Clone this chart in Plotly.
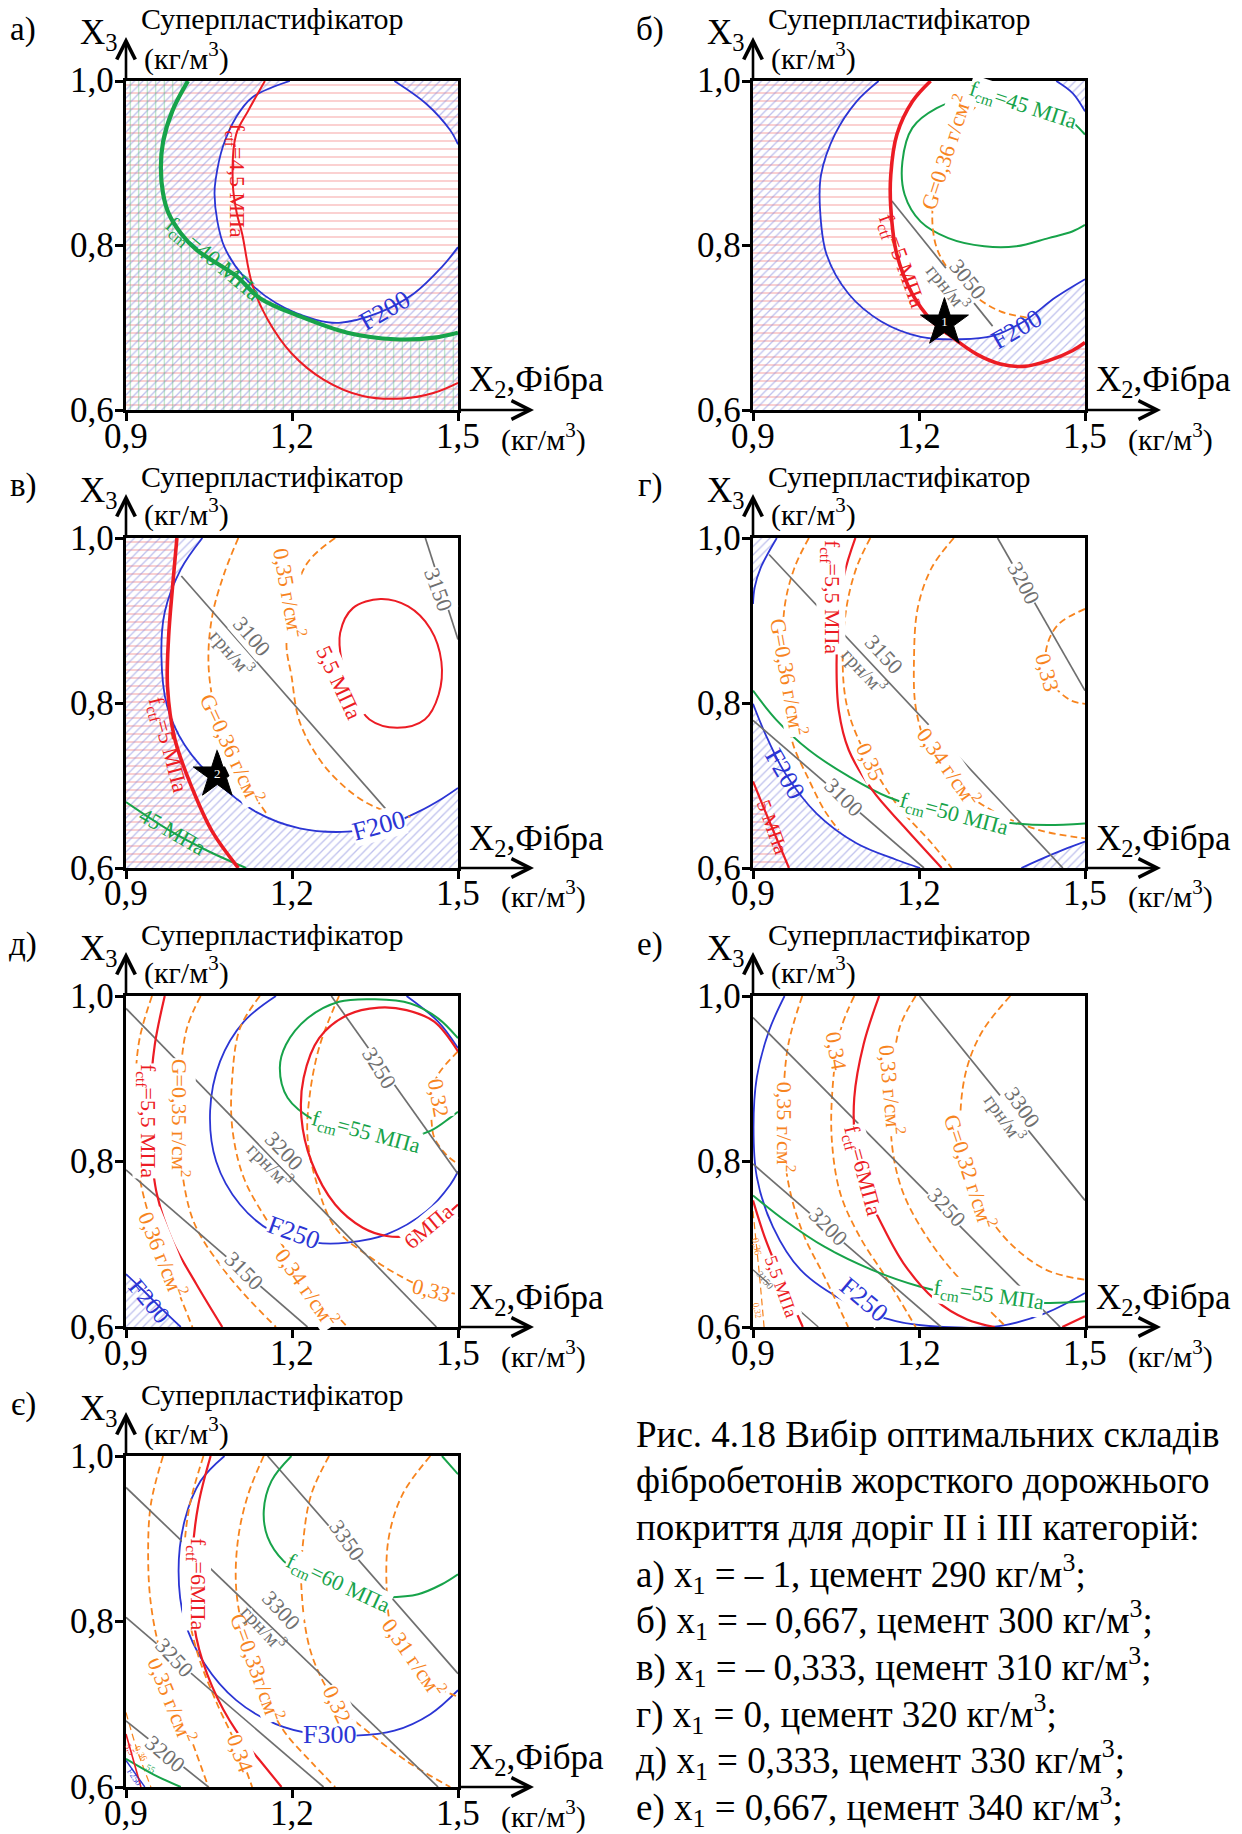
import plotly.graph_objects as go

W, H = 1242, 1834
FONT = "Liberation Serif"
RED, BLUE, GREEN, ORANGE, GRAY = "#ec1c24", "#2b35d4", "#17a34a", "#f7841e", "#6f6f6f"

X_TICKS = [0.9, 1.2, 1.5]
X_TICK_TEXT = ["0,9", "1,2", "1,5"]
Y_TICKS = [0.6, 0.8, 1.0]
Y_TICK_TEXT = ["0,6", "0,8", "1,0"]
PANEL_LETTERS = ["а)", "б)", "в)", "г)", "д)", "е)", "є)"]

# ---------------- panel а) ----------------
A_RED45 = [(1.151, 1.0), (1.121, 0.964), (1.099, 0.935), (1.093, 0.875), (1.100, 0.84), (1.110, 0.814),
           (1.128, 0.753), (1.156, 0.710), (1.199, 0.669), (1.257, 0.637), (1.328, 0.617), (1.400, 0.614),
           (1.457, 0.621), (1.5, 0.633)]
A_BLUE_MAIN = [(1.196, 1.0), (1.128, 0.980), (1.099, 0.956), (1.075, 0.92), (1.062, 0.88), (1.060, 0.863),
               (1.065, 0.83), (1.078, 0.798), (1.113, 0.762), (1.171, 0.730), (1.242, 0.710), (1.285, 0.706),
               (1.356, 0.718), (1.421, 0.742), (1.471, 0.774), (1.5, 0.798)]
A_BLUE_TR = [(1.385, 1.0), (1.443, 0.972), (1.486, 0.940), (1.5, 0.923)]
A_GREEN40 = [(1.012, 1.0), (0.984, 0.964), (0.967, 0.926), (0.963, 0.895), (0.967, 0.863), (0.977, 0.839),
             (0.999, 0.815), (1.027, 0.795), (1.099, 0.763), (1.142, 0.736), (1.214, 0.714), (1.300, 0.694),
             (1.386, 0.686), (1.457, 0.688), (1.5, 0.694)]

# ---------------- panel б) ----------------
B_BLUE_MAIN = [(1.127, 1.0), (1.087, 0.975), (1.048, 0.935), (1.023, 0.886), (1.021, 0.846), (1.033, 0.789),
               (1.073, 0.741), (1.131, 0.708), (1.203, 0.689), (1.275, 0.686), (1.333, 0.690), (1.390, 0.708),
               (1.447, 0.737), (1.5, 0.759)]
B_BLUE_TR = [(1.448, 1.0), (1.478, 0.985), (1.5, 0.963)]
B_RED5 = [(1.221, 1.0), (1.188, 0.975), (1.160, 0.935), (1.149, 0.886), (1.149, 0.846), (1.160, 0.789),
          (1.188, 0.741), (1.224, 0.708), (1.253, 0.692), (1.304, 0.668), (1.347, 0.656), (1.390, 0.653),
          (1.434, 0.660), (1.477, 0.672), (1.5, 0.682)]
B_GREEN45 = [(1.5, 0.825), (1.477, 0.817), (1.434, 0.809), (1.376, 0.799), (1.318, 0.799), (1.253, 0.809),
             (1.203, 0.829), (1.174, 0.862), (1.170, 0.902), (1.188, 0.943), (1.232, 0.967), (1.297, 0.981),
             (1.340, 0.983), (1.412, 0.975), (1.462, 0.959), (1.5, 0.935)]
B_ORANGE36 = [(1.333, 0.985), (1.29, 0.96), (1.255, 0.92), (1.232, 0.87), (1.224, 0.838), (1.232, 0.797),
              (1.260, 0.765), (1.304, 0.737), (1.347, 0.720), (1.397, 0.712)]
B_GRAY3050 = [(1.151, 0.854), (1.333, 0.702)]
B_STAR = [(1.246, 0.706)]

# ---------------- panel в) ----------------
V_RED5 = [(0.992, 1.0), (0.984, 0.94), (0.977, 0.88), (0.975, 0.82), (0.988, 0.757), (1.020, 0.696),
          (1.056, 0.644), (1.103, 0.6)]
V_BLUE200 = [(1.038, 1.0), (0.999, 0.962), (0.970, 0.910), (0.964, 0.857), (0.974, 0.797), (1.006, 0.749),
             (1.063, 0.705), (1.135, 0.668), (1.214, 0.648), (1.300, 0.644), (1.371, 0.652), (1.428, 0.668),
             (1.471, 0.684), (1.5, 0.697)]
V_GREEN45 = [(0.9, 0.680), (0.98, 0.645), (1.05, 0.620), (1.117, 0.6)]
V_ORANGE36 = [(1.103, 1.0), (1.078, 0.958), (1.056, 0.906), (1.049, 0.849), (1.060, 0.793), (1.080, 0.75),
              (1.110, 0.71), (1.156, 0.664)]
V_ORANGE35 = [(1.278, 1.0), (1.228, 0.970), (1.200, 0.92), (1.190, 0.87), (1.199, 0.833), (1.214, 0.777),
              (1.257, 0.725), (1.314, 0.688), (1.357, 0.672), (1.414, 0.662)]
V_RED55 = [(1.360, 0.926), (1.41, 0.917), (1.45, 0.89), (1.470, 0.85), (1.465, 0.81), (1.44, 0.78),
           (1.39, 0.770), (1.34, 0.78), (1.31, 0.81), (1.29, 0.85), (1.287, 0.885), (1.31, 0.915), (1.360, 0.926)]
V_GRAY3100 = [(1.000, 0.954), (1.382, 0.662)]
V_GRAY3150 = [(1.441, 1.0), (1.5, 0.877)]
V_STAR = [(1.065, 0.713)]

# ---------------- panel г) ----------------
G_BLUE_TL = [(0.943, 1.0), (0.914, 0.964), (0.903, 0.94), (0.9, 0.92)]
G_BLUE_BL = [(0.9, 0.799), (0.922, 0.763), (0.958, 0.715), (1.015, 0.666), (1.087, 0.630), (1.159, 0.610),
             (1.202, 0.6)]
G_BLUE_BR = [(1.385, 0.6), (1.432, 0.614), (1.468, 0.624), (1.5, 0.632)]
G_RED5 = [(0.9, 0.705), (0.92, 0.672), (0.94, 0.640), (0.965, 0.6)]
G_RED55 = [(1.085, 1.0), (1.065, 0.956), (1.055, 0.90), (1.051, 0.847), (1.055, 0.791), (1.073, 0.743),
           (1.116, 0.694), (1.173, 0.650), (1.241, 0.6)]
G_OR36 = [(1.001, 1.0), (0.975, 0.964), (0.957, 0.916), (0.955, 0.85), (0.960, 0.80), (0.972, 0.751),
          (1.001, 0.707), (1.029, 0.670), (1.055, 0.646)]
G_OR35 = [(1.112, 1.0), (1.087, 0.964), (1.069, 0.916), (1.062, 0.855), (1.069, 0.799), (1.094, 0.751),
          (1.159, 0.678), (1.223, 0.630), (1.259, 0.6)]
G_OR34 = [(1.263, 1.0), (1.223, 0.964), (1.198, 0.916), (1.191, 0.855), (1.195, 0.791), (1.22, 0.74),
          (1.27, 0.70), (1.331, 0.670), (1.417, 0.646), (1.5, 0.636)]
G_OR33 = [(1.5, 0.914), (1.453, 0.896), (1.432, 0.871), (1.430, 0.84), (1.446, 0.819), (1.475, 0.803), (1.5, 0.799)]
G_GREEN50 = [(0.9, 0.815), (0.943, 0.779), (1.001, 0.743), (1.073, 0.711), (1.144, 0.686), (1.25, 0.665),
             (1.374, 0.654), (1.432, 0.652), (1.5, 0.654)]
G_GRAY3100 = [(0.9, 0.779), (1.209, 0.6)]
G_GRAY3150 = [(0.929, 0.980), (1.460, 0.6)]
G_GRAY3200 = [(1.342, 1.0), (1.5, 0.815)]

# ---------------- panel д) ----------------
D_BLUE200 = [(0.9, 0.664), (0.93, 0.645), (0.96, 0.625), (0.999, 0.6)]
D_RED55 = [(0.970, 1.0), (0.952, 0.941), (0.944, 0.88), (0.945, 0.82), (0.956, 0.760), (0.984, 0.704),
           (1.027, 0.652), (1.074, 0.6)]
D_OR36 = [(0.947, 1.0), (0.925, 0.95), (0.917, 0.90), (0.916, 0.85), (0.920, 0.80), (0.935, 0.75),
          (0.96, 0.70), (0.99, 0.65), (1.02, 0.6)]
D_OR35 = [(1.035, 1.0), (1.010, 0.961), (0.998, 0.90), (0.997, 0.84), (1.006, 0.768), (1.027, 0.720),
          (1.078, 0.668), (1.12, 0.635), (1.171, 0.6)]
D_OR34 = [(1.142, 1.0), (1.106, 0.961), (1.092, 0.901), (1.092, 0.841), (1.113, 0.780), (1.163, 0.720),
          (1.214, 0.668), (1.26, 0.63), (1.300, 0.6)]
D_OR33 = [(1.285, 1.0), (1.250, 0.94), (1.232, 0.88), (1.228, 0.83), (1.242, 0.780), (1.278, 0.720),
          (1.342, 0.684), (1.40, 0.660), (1.45, 0.645), (1.5, 0.640)]
D_OR32 = [(1.5, 0.933), (1.464, 0.905), (1.450, 0.877), (1.452, 0.85), (1.457, 0.829), (1.479, 0.808), (1.5, 0.797)]
D_BLUE250_MAIN = [(1.171, 1.0), (1.113, 0.969), (1.070, 0.921), (1.052, 0.861), (1.063, 0.800), (1.106, 0.748),
                  (1.163, 0.716), (1.242, 0.702), (1.300, 0.702), (1.371, 0.712), (1.443, 0.740), (1.486, 0.772),
                  (1.5, 0.788)]
D_BLUE250_TR = [(1.407, 1.0), (1.464, 0.969), (1.5, 0.937)]
D_GREEN55 = [(1.5, 0.949), (1.464, 0.973), (1.414, 0.991), (1.350, 0.996), (1.285, 0.993), (1.228, 0.973),
             (1.189, 0.941), (1.178, 0.913), (1.192, 0.877), (1.242, 0.849), (1.32, 0.830), (1.385, 0.826),
             (1.450, 0.837), (1.486, 0.853), (1.5, 0.860)]
D_RED6 = [(1.5, 0.933), (1.457, 0.969), (1.407, 0.983), (1.357, 0.986), (1.300, 0.977), (1.249, 0.949),
          (1.221, 0.901), (1.217, 0.853), (1.235, 0.800), (1.278, 0.748), (1.328, 0.720), (1.371, 0.710),
          (1.407, 0.710), (1.471, 0.732), (1.5, 0.748)]
D_GRAY3150 = [(0.9, 0.790), (1.228, 0.6)]
D_GRAY3200 = [(0.9, 0.985), (1.461, 0.6)]
D_GRAY3250 = [(1.271, 1.0), (1.5, 0.785)]

# ---------------- panel е) ----------------
E_BLUE250 = [(0.957, 1.0), (0.929, 0.958), (0.907, 0.902), (0.901, 0.842), (0.907, 0.781), (0.936, 0.721),
             (0.986, 0.669), (1.072, 0.629), (1.158, 0.607), (1.244, 0.600), (1.344, 0.601), (1.430, 0.617),
             (1.5, 0.641)]
E_GREEN55 = [(0.9, 0.759), (0.957, 0.729), (1.029, 0.697), (1.115, 0.669), (1.201, 0.649), (1.30, 0.636),
             (1.430, 0.629), (1.5, 0.631)]
E_RED6 = [(1.128, 1.0), (1.100, 0.942), (1.083, 0.877), (1.085, 0.82), (1.10, 0.77), (1.129, 0.729),
          (1.172, 0.677), (1.229, 0.633), (1.287, 0.609), (1.337, 0.6)]
E_RED6B = [(1.459, 0.6), (1.5, 0.613)]
E_RED55 = [(0.9, 0.753), (0.921, 0.709), (0.950, 0.661), (0.990, 0.6)]
E_OR36 = [(0.9, 0.74), (0.906, 0.70), (0.912, 0.66), (0.92, 0.6)]
E_OR35 = [(0.989, 1.0), (0.964, 0.942), (0.955, 0.88), (0.955, 0.82), (0.968, 0.761), (0.993, 0.709),
          (1.029, 0.661), (1.072, 0.6)]
E_OR34 = [(1.083, 1.0), (1.058, 0.958), (1.043, 0.881), (1.043, 0.821), (1.058, 0.761), (1.093, 0.709),
          (1.143, 0.657), (1.194, 0.6)]
E_OR33 = [(1.194, 1.0), (1.165, 0.962), (1.152, 0.90), (1.151, 0.821), (1.172, 0.761), (1.222, 0.701),
          (1.280, 0.653), (1.344, 0.609), (1.358, 0.6)]
E_OR32 = [(1.365, 1.0), (1.315, 0.958), (1.287, 0.914), (1.275, 0.86), (1.28, 0.80), (1.31, 0.75),
          (1.365, 0.701), (1.430, 0.669), (1.5, 0.657)]
E_GRAY3150 = [(0.9, 0.669), (1.018, 0.6)]
E_GRAY3200 = [(0.9, 0.797), (1.240, 0.6)]
E_GRAY3250 = [(0.9, 0.974), (1.455, 0.6)]
E_GRAY3300 = [(1.201, 1.0), (1.5, 0.753)]

# ---------------- panel є) ----------------
YE_BLUE300 = [(1.078, 1.0), (1.035, 0.970), (1.006, 0.922), (0.995, 0.861), (1.006, 0.801), (1.042, 0.749),
              (1.099, 0.705), (1.171, 0.676), (1.24, 0.664), (1.314, 0.662), (1.385, 0.668), (1.450, 0.688),
              (1.5, 0.717)]
YE_BLUE250 = [(0.9, 0.632), (0.934, 0.6)]
YE_RED6 = [(1.053, 1.0), (1.031, 0.942), (1.020, 0.881), (1.020, 0.83), (1.027, 0.781), (1.056, 0.721),
           (1.099, 0.668), (1.142, 0.632), (1.181, 0.6)]
YE_RED55 = [(0.9, 0.664), (0.927, 0.6)]
YE_GREEN60 = [(1.199, 1.0), (1.163, 0.970), (1.149, 0.934), (1.156, 0.902), (1.185, 0.873), (1.25, 0.845),
              (1.32, 0.830), (1.371, 0.829), (1.428, 0.833), (1.471, 0.845), (1.5, 0.857)]
YE_GREEN60B = [(1.471, 1.0), (1.5, 0.978)]
YE_GREEN55 = [(0.9, 0.634), (0.95, 0.615), (0.999, 0.6)]
YE_OR36 = [(0.9, 0.69), (0.92, 0.645), (0.945, 0.6)]
YE_OR35 = [(0.967, 1.0), (0.945, 0.942), (0.940, 0.881), (0.945, 0.821), (0.963, 0.761), (1.006, 0.680), (1.049, 0.6)]
YE_OR34 = [(1.04, 1.0), (1.015, 0.94), (1.005, 0.88), (1.01, 0.82), (1.03, 0.76), (1.065, 0.70), (1.10, 0.65), (1.128, 0.6)]
YE_OR33 = [(1.149, 1.0), (1.121, 0.954), (1.103, 0.902), (1.099, 0.841), (1.115, 0.78), (1.145, 0.72),
           (1.185, 0.668), (1.235, 0.63), (1.278, 0.6)]
YE_OR32 = [(1.267, 1.0), (1.235, 0.954), (1.221, 0.902), (1.217, 0.841), (1.235, 0.761), (1.282, 0.700),
           (1.335, 0.668), (1.41, 0.63), (1.486, 0.6)]
YE_OR31 = [(1.450, 1.0), (1.400, 0.954), (1.375, 0.902), (1.371, 0.841), (1.38, 0.79), (1.41, 0.75),
           (1.45, 0.725), (1.5, 0.709)]
YE_GRAY3200 = [(0.9, 0.680), (1.049, 0.6)]
YE_GRAY3250 = [(0.9, 0.805), (1.257, 0.6)]
YE_GRAY3300 = [(0.9, 0.962), (1.464, 0.6)]
YE_GRAY3350 = [(1.156, 1.0), (1.5, 0.737)]

CAPTION = [
    "Рис. 4.18 Вибір оптимальних складів",
    "фібробетонів жорсткого дорожнього",
    "покриття для доріг ІІ і ІІІ категорій:",
    "а) x<sub>1</sub> = – 1, цемент 290 кг/м<sup>3</sup>;",
    "б) x<sub>1</sub> = – 0,667, цемент 300 кг/м<sup>3</sup>;",
    "в) x<sub>1</sub> = – 0,333, цемент 310 кг/м<sup>3</sup>;",
    "г) x<sub>1</sub> = 0, цемент 320 кг/м<sup>3</sup>;",
    "д) x<sub>1</sub> = 0,333, цемент 330 кг/м<sup>3</sup>;",
    "е) x<sub>1</sub> = 0,667, цемент 340 кг/м<sup>3</sup>;",
]

# ---------------- geometry helpers ----------------
XL, XR, YB, YT = 0.9, 1.5, 0.6, 1.0
OX0, OX1, OY0, OY1 = 0.8, 1.6, 0.5, 1.1
TL, TR, BL, BR = (OX0, OY1), (OX1, OY1), (OX0, OY0), (OX1, OY0)


def push_out(p):
    x, y = p
    if y >= YT - 1e-6:
        return (x, OY1)
    if y <= YB + 1e-6:
        return (x, OY0)
    if x <= XL + 1e-6:
        return (OX0, y)
    return (OX1, y)


def region(curve, corners):
    return list(curve) + [push_out(curve[-1])] + list(corners) + [push_out(curve[0])]


BOX_ALL = [TL, TR, BR, BL]

HATCH_RED = dict(shape="-", fgcolor="#f05a5a", size=8, solidity=0.14)
HATCH_BLUE = dict(shape="/", fgcolor="#7f84dc", size=6, solidity=0.22)
HATCH_GREEN = dict(shape="|", fgcolor="#5cbf7a", size=8.5, solidity=0.13)

THIN, THICK = 1.8, 3.6
DASH = "7px,4px"

# curves: (points, color, width, dash)
# labels: (text, x, y, angle, color, size, white background)
PANELS = [
    dict(  # а
        fills=[(BOX_ALL, HATCH_RED),
               (region(A_BLUE_MAIN, [BR, BL, TL]), HATCH_BLUE),
               (region(A_BLUE_TR, [TR]), HATCH_BLUE),
               (region(A_GREEN40, [BR, BL, TL]), HATCH_GREEN)],
        curves=[(A_BLUE_MAIN, BLUE, THIN, None), (A_BLUE_TR, BLUE, THIN, None),
                (A_RED45, RED, 2.0, None), (A_GREEN40, GREEN, 4.2, None)],
        labels=[("f<sub>ctf</sub>=4,5 МПа", 1.099, 0.879, 90, RED, 22, False),
                ("f<sub>cm</sub>=40 МПа", 1.056, 0.782, 40, GREEN, 23, False),
                ("F200", 1.368, 0.721, -30, BLUE, 26, False)],
        stars=[]),
    dict(  # б
        fills=[(region(B_RED5, [BR, BL, TL]), HATCH_RED),
               (region(B_BLUE_MAIN, [BR, BL, TL]), HATCH_BLUE),
               (region(B_BLUE_TR, [TR]), HATCH_BLUE)],
        curves=[(B_BLUE_MAIN, BLUE, THIN, None), (B_BLUE_TR, BLUE, THIN, None),
                (B_GREEN45, GREEN, 2.0, None), (B_ORANGE36, ORANGE, THIN, DASH),
                (B_GRAY3050, GRAY, 1.7, None), (B_RED5, RED, THICK, None)],
        labels=[("f<sub>ctf</sub>=5 МПа", 1.167, 0.781, 70, RED, 22, False),
                ("f<sub>cm</sub>=45 МПа", 1.387, 0.969, 18, GREEN, 22, True),
                ("G=0,36 г/см<sup>2</sup>", 1.246, 0.914, -72, ORANGE, 22, True),
                ("3050", 1.289, 0.759, 51, GRAY, 22, True),
                ("грн/м<sup>3</sup>", 1.253, 0.749, 51, GRAY, 20, False),
                ("F200", 1.376, 0.698, -30, BLUE, 26, False)],
        stars=[(B_STAR, "1")]),
    dict(  # в
        fills=[(region(V_RED5, [BL, TL]), HATCH_RED),
               (region(V_BLUE200, [BR, BL, TL]), HATCH_BLUE)],
        curves=[(V_BLUE200, BLUE, THIN, None), (V_GREEN45, GREEN, 2.0, None),
                (V_ORANGE36, ORANGE, THIN, DASH), (V_ORANGE35, ORANGE, THIN, DASH),
                (V_GRAY3100, GRAY, 1.7, None), (V_GRAY3150, GRAY, 1.7, None),
                (V_RED55, RED, 2.0, None), (V_RED5, RED, THICK, None)],
        labels=[("f<sub>ctf</sub>=5 МПа", 0.974, 0.749, 75, RED, 22, False),
                ("45 МПа", 0.984, 0.644, 30, GREEN, 22, False),
                ("G=0,36 г/см<sup>2</sup>", 1.092, 0.745, 65, ORANGE, 22, True),
                ("0,35 г/см<sup>2</sup>", 1.196, 0.933, 80, ORANGE, 22, True),
                ("5,5 МПа", 1.285, 0.825, 65, RED, 22, True),
                ("3100", 1.128, 0.881, 49, GRAY, 22, True),
                ("грн/м<sup>3</sup>", 1.092, 0.861, 49, GRAY, 20, False),
                ("3150", 1.465, 0.938, 70, GRAY, 22, True),
                ("F200", 1.357, 0.652, -15, BLUE, 26, True)],
        stars=[(V_STAR, "2")]),
    dict(  # г
        fills=[(region(G_RED5, [BL]), HATCH_RED),
               (region(G_BLUE_TL, [TL]), HATCH_BLUE),
               (region(G_BLUE_BL, [BL]), HATCH_BLUE),
               (region(G_BLUE_BR, [BR]), HATCH_BLUE)],
        curves=[(G_BLUE_TL, BLUE, THIN, None), (G_BLUE_BL, BLUE, THIN, None), (G_BLUE_BR, BLUE, THIN, None),
                (G_OR36, ORANGE, THIN, DASH), (G_OR35, ORANGE, THIN, DASH), (G_OR34, ORANGE, THIN, DASH),
                (G_OR33, ORANGE, THIN, DASH), (G_GRAY3100, GRAY, 1.7, None), (G_GRAY3150, GRAY, 1.7, None),
                (G_GRAY3200, GRAY, 1.7, None), (G_GREEN50, GREEN, 2.0, None),
                (G_RED5, RED, 2.2, None), (G_RED55, RED, 2.2, None)],
        labels=[("f<sub>ctf</sub>=5,5 МПа", 1.040, 0.928, 90, RED, 22, True),
                ("5 МПа", 0.936, 0.650, 70, RED, 20, False),
                ("G=0,36 г/см<sup>2</sup>", 0.965, 0.831, 80, ORANGE, 22, True),
                ("0,35", 1.112, 0.729, 65, ORANGE, 22, True),
                ("0,34 г/см<sup>2</sup>", 1.256, 0.723, 55, ORANGE, 22, True),
                ("0,33", 1.432, 0.837, 75, ORANGE, 22, True),
                ("f<sub>cm</sub>=50 МПа", 1.263, 0.664, 15, GREEN, 22, True),
                ("3100", 1.065, 0.686, 45, GRAY, 22, True),
                ("3150", 1.137, 0.859, 47, GRAY, 22, True),
                ("грн/м<sup>3</sup>", 1.101, 0.839, 47, GRAY, 20, False),
                ("3200", 1.389, 0.946, 62, GRAY, 22, True),
                ("F200", 0.958, 0.715, 60, BLUE, 26, False)],
        stars=[]),
    dict(  # д
        fills=[(region(D_BLUE200, [BL]), HATCH_BLUE)],
        curves=[(D_BLUE200, BLUE, THIN, None), (D_BLUE250_MAIN, BLUE, THIN, None), (D_BLUE250_TR, BLUE, THIN, None),
                (D_OR36, ORANGE, THIN, DASH), (D_OR35, ORANGE, THIN, DASH), (D_OR34, ORANGE, THIN, DASH),
                (D_OR33, ORANGE, THIN, DASH), (D_OR32, ORANGE, THIN, DASH),
                (D_GRAY3150, GRAY, 1.7, None), (D_GRAY3200, GRAY, 1.7, None), (D_GRAY3250, GRAY, 1.7, None),
                (D_GREEN55, GREEN, 2.0, None), (D_RED6, RED, 2.2, None), (D_RED55, RED, 2.2, None)],
        labels=[("F200", 0.942, 0.632, 50, BLUE, 24, False),
                ("f<sub>ctf</sub>=5,5 МПа", 0.938, 0.849, 90, RED, 22, True),
                ("0,36 г/см<sup>2</sup>", 0.967, 0.688, 68, ORANGE, 22, True),
                ("G=0,35 г/см<sup>2</sup>", 0.999, 0.852, 90, ORANGE, 22, True),
                ("0,34 г/см<sup>2</sup>", 1.228, 0.648, 55, ORANGE, 22, True),
                ("0,33", 1.453, 0.644, 15, ORANGE, 22, True),
                ("0,32", 1.464, 0.877, 80, ORANGE, 22, True),
                ("F250", 1.203, 0.714, 20, BLUE, 26, True),
                ("f<sub>cm</sub>=55 МПа", 1.332, 0.834, 15, GREEN, 22, True),
                ("6МПа", 1.446, 0.722, -40, RED, 22, True),
                ("3150", 1.113, 0.668, 45, GRAY, 22, True),
                ("3200", 1.185, 0.813, 46, GRAY, 22, True),
                ("грн/м<sup>3</sup>", 1.160, 0.796, 46, GRAY, 20, False),
                ("3250", 1.357, 0.913, 58, GRAY, 22, True)],
        stars=[]),
    dict(  # е
        fills=[],
        curves=[(E_BLUE250, BLUE, THIN, None), (E_OR36, ORANGE, 1.2, DASH), (E_OR35, ORANGE, THIN, DASH),
                (E_OR34, ORANGE, THIN, DASH), (E_OR33, ORANGE, THIN, DASH), (E_OR32, ORANGE, THIN, DASH),
                (E_GRAY3150, GRAY, 1.4, None), (E_GRAY3200, GRAY, 1.7, None), (E_GRAY3250, GRAY, 1.7, None),
                (E_GRAY3300, GRAY, 1.7, None), (E_GREEN55, GREEN, 2.0, None),
                (E_RED6, RED, 2.2, None), (E_RED6B, RED, 2.2, None), (E_RED55, RED, 2.2, None)],
        labels=[("F250", 1.100, 0.633, 40, BLUE, 26, True),
                ("f<sub>cm</sub>=55 МПа", 1.326, 0.637, 8, GREEN, 22, True),
                ("f<sub>ctf</sub>=6МПа", 1.097, 0.789, 75, RED, 22, True),
                ("5,5 МПа", 0.950, 0.649, 70, RED, 18, True),
                ("0,36", 0.907, 0.697, 80, ORANGE, 10, False),
                ("0,35 г/см<sup>2</sup>", 0.961, 0.841, 90, ORANGE, 22, True),
                ("0,34", 1.050, 0.934, 80, ORANGE, 22, True),
                ("0,33 г/см<sup>2</sup>", 1.151, 0.886, 85, ORANGE, 22, True),
                ("G=0,32 г/см<sup>2</sup>", 1.294, 0.789, 72, ORANGE, 22, True),
                ("0,32", 0.907, 0.620, 80, ORANGE, 9, False),
                ("3150", 0.921, 0.657, 50, GRAY, 10, False),
                ("3200", 1.036, 0.721, 45, GRAY, 22, True),
                ("3250", 1.251, 0.745, 47, GRAY, 22, True),
                ("3300", 1.387, 0.865, 55, GRAY, 22, True),
                ("грн/м<sup>3</sup>", 1.355, 0.853, 55, GRAY, 20, False)],
        stars=[]),
    dict(  # є
        fills=[],
        curves=[(YE_BLUE300, BLUE, THIN, None), (YE_BLUE250, BLUE, 1.4, None),
                (YE_OR36, ORANGE, 1.2, DASH), (YE_OR35, ORANGE, THIN, DASH), (YE_OR34, ORANGE, THIN, DASH),
                (YE_OR33, ORANGE, THIN, DASH), (YE_OR32, ORANGE, THIN, DASH), (YE_OR31, ORANGE, THIN, DASH),
                (YE_GRAY3200, GRAY, 1.7, None), (YE_GRAY3250, GRAY, 1.7, None), (YE_GRAY3300, GRAY, 1.7, None),
                (YE_GRAY3350, GRAY, 1.7, None), (YE_GREEN60, GREEN, 2.0, None), (YE_GREEN60B, GREEN, 2.0, None),
                (YE_GREEN55, GREEN, 2.0, None), (YE_RED6, RED, 2.2, None), (YE_RED55, RED, 1.6, None)],
        labels=[("F300", 1.267, 0.664, 0, BLUE, 26, True),
                ("F250", 0.915, 0.612, 55, BLUE, 9, False),
                ("f<sub>ctf</sub>=6МПа", 1.027, 0.845, 90, RED, 22, True),
                ("5,5", 0.908, 0.645, 60, RED, 9, False),
                ("f<sub>cm</sub>=60 МПа", 1.282, 0.845, 25, GREEN, 22, True),
                ("55", 0.945, 0.622, 30, GREEN, 9, False),
                ("0,36", 0.928, 0.640, 60, ORANGE, 9, False),
                ("0,35 г/см<sup>2</sup>", 0.984, 0.705, 68, ORANGE, 22, True),
                ("0,34", 1.106, 0.640, 70, ORANGE, 22, True),
                ("G=0,33г/см<sup>2</sup>", 1.138, 0.745, 70, ORANGE, 22, True),
                ("0,32", 1.282, 0.700, 65, ORANGE, 22, True),
                ("0,31 г/см<sup>2</sup>", 1.421, 0.757, 55, ORANGE, 22, True),
                ("3200", 0.970, 0.640, 40, GRAY, 22, True),
                ("3250", 0.988, 0.757, 47, GRAY, 22, True),
                ("3300", 1.181, 0.813, 47, GRAY, 22, True),
                ("грн/м<sup>3</sup>", 1.149, 0.793, 47, GRAY, 20, False),
                ("3350", 1.300, 0.898, 55, GRAY, 22, True)],
        stars=[]),
]

# panel boxes in pixels (left, right) / (top, bottom)
COLS = [(126, 458), (753, 1085)]
ROWS = [(81, 410), (538, 868), (996, 1327), (1456, 1787)]
POS = [(0, 0), (1, 0), (0, 1), (1, 1), (0, 2), (1, 2), (0, 3)]


def px(x):
    return x / W


def py(y):
    return 1 - y / H


fig = go.Figure()
layout = dict(width=W, height=H, autosize=False,
              margin=dict(l=0, r=0, t=0, b=0, pad=0, autoexpand=False),
              paper_bgcolor="white", plot_bgcolor="white", showlegend=False)
annotations = []
TICK_FONT = dict(family=FONT, size=35, color="black")

for i, panel in enumerate(PANELS):
    col, row = POS[i]
    L, R = COLS[col]
    T, B = ROWS[row]
    sx = "" if i == 0 else str(i + 1)
    xid, yid = "x" + sx, "y" + sx
    common = dict(showline=True, linewidth=3, linecolor="black", mirror=True, showgrid=False, zeroline=False,
                  ticks="outside", ticklen=8, tickwidth=2.5, tickcolor="black", fixedrange=True,
                  automargin=False, showticklabels=False)
    layout["xaxis" + sx] = dict(domain=[px(L), px(R)], range=[XL, XR], tickvals=X_TICKS, anchor=yid, **common)
    layout["yaxis" + sx] = dict(domain=[py(B), py(T)], range=[YB, YT], tickvals=Y_TICKS, anchor=xid, **common)

    # tick labels (placed at the axis values)
    for v, t in zip(X_TICKS, X_TICK_TEXT):
        annotations.append(dict(text=t, x=v, y=py(B + 26), xref=xid, yref="paper", xanchor="center",
                                yanchor="middle", showarrow=False, font=TICK_FONT))
    for v, t in zip(Y_TICKS, Y_TICK_TEXT):
        annotations.append(dict(text=t, x=px(L - 10), y=v, xref="paper", yref=yid, xanchor="right",
                                yanchor="middle", showarrow=False, font=TICK_FONT))

    for pts, pat in panel["fills"]:
        fig.add_trace(go.Scatter(x=[p[0] for p in pts], y=[p[1] for p in pts], mode="none", fill="toself",
                                 fillcolor="rgba(0,0,0,0)", fillpattern=pat, xaxis=xid, yaxis=yid,
                                 hoverinfo="skip"))
    for pts, color, width, dash in panel["curves"]:
        line = dict(color=color, width=width, shape="spline", smoothing=1.0)
        if dash:
            line["dash"] = dash
        fig.add_trace(go.Scatter(x=[p[0] for p in pts], y=[p[1] for p in pts], mode="lines", line=line,
                                 xaxis=xid, yaxis=yid, hoverinfo="skip"))
    for pts, num in panel["stars"]:
        fig.add_trace(go.Scatter(x=[p[0] for p in pts], y=[p[1] for p in pts], mode="markers+text",
                                 marker=dict(symbol="star", size=36, color="black",
                                             line=dict(color="black", width=1)),
                                 text=[num], textposition="middle center",
                                 textfont=dict(family=FONT, size=13, color="white"),
                                 xaxis=xid, yaxis=yid, hoverinfo="skip"))
    for text, x, y, ang, color, size, bg in panel["labels"]:
        a = dict(text=text, x=x, y=y, xref=xid, yref=yid, showarrow=False, textangle=ang,
                 font=dict(family=FONT, size=size, color=color), borderpad=0)
        if bg:
            a["bgcolor"] = "white"
        annotations.append(a)

    # axis arrows
    annotations.append(dict(x=px(L), y=py(T - 44), xref="paper", yref="paper", ax=0, ay=44, showarrow=True,
                            arrowhead=5, arrowsize=1.4, arrowwidth=2.6, arrowcolor="black", text=""))
    annotations.append(dict(x=px(R + 76), y=py(B), xref="paper", yref="paper", ax=-76, ay=0, showarrow=True,
                            arrowhead=5, arrowsize=1.4, arrowwidth=2.6, arrowcolor="black", text=""))
    # axis captions
    deco = [
        (PANEL_LETTERS[i], L - 103, T - 52, "center", 33),
        ("X<sub>3</sub>", L - 6, T - 46, "right", 35),
        ("Суперпластифікатор", L + 13, T - 62, "left", 30),
        ("(кг/м<sup>3</sup>)", L + 16, T - 25, "left", 30),
        ("X<sub>2</sub>,Фібра", R + 9, B - 28, "left", 35),
        ("(кг/м<sup>3</sup>)", R + 41, B + 27, "left", 30),
    ]
    for text, x, y, anc, size in deco:
        annotations.append(dict(text=text, x=px(x), y=py(y), xref="paper", yref="paper", xanchor=anc,
                                yanchor="middle", showarrow=False,
                                font=dict(family=FONT, size=size, color="black")))

for k, line in enumerate(CAPTION):
    annotations.append(dict(text=line, x=px(634), y=py(1434 + 46.6 * k), xref="paper", yref="paper",
                            xanchor="left", yanchor="middle", showarrow=False,
                            font=dict(family=FONT, size=37, color="black")))

layout["annotations"] = annotations
fig.update_layout(**layout)
fig.write_html("out.html")
